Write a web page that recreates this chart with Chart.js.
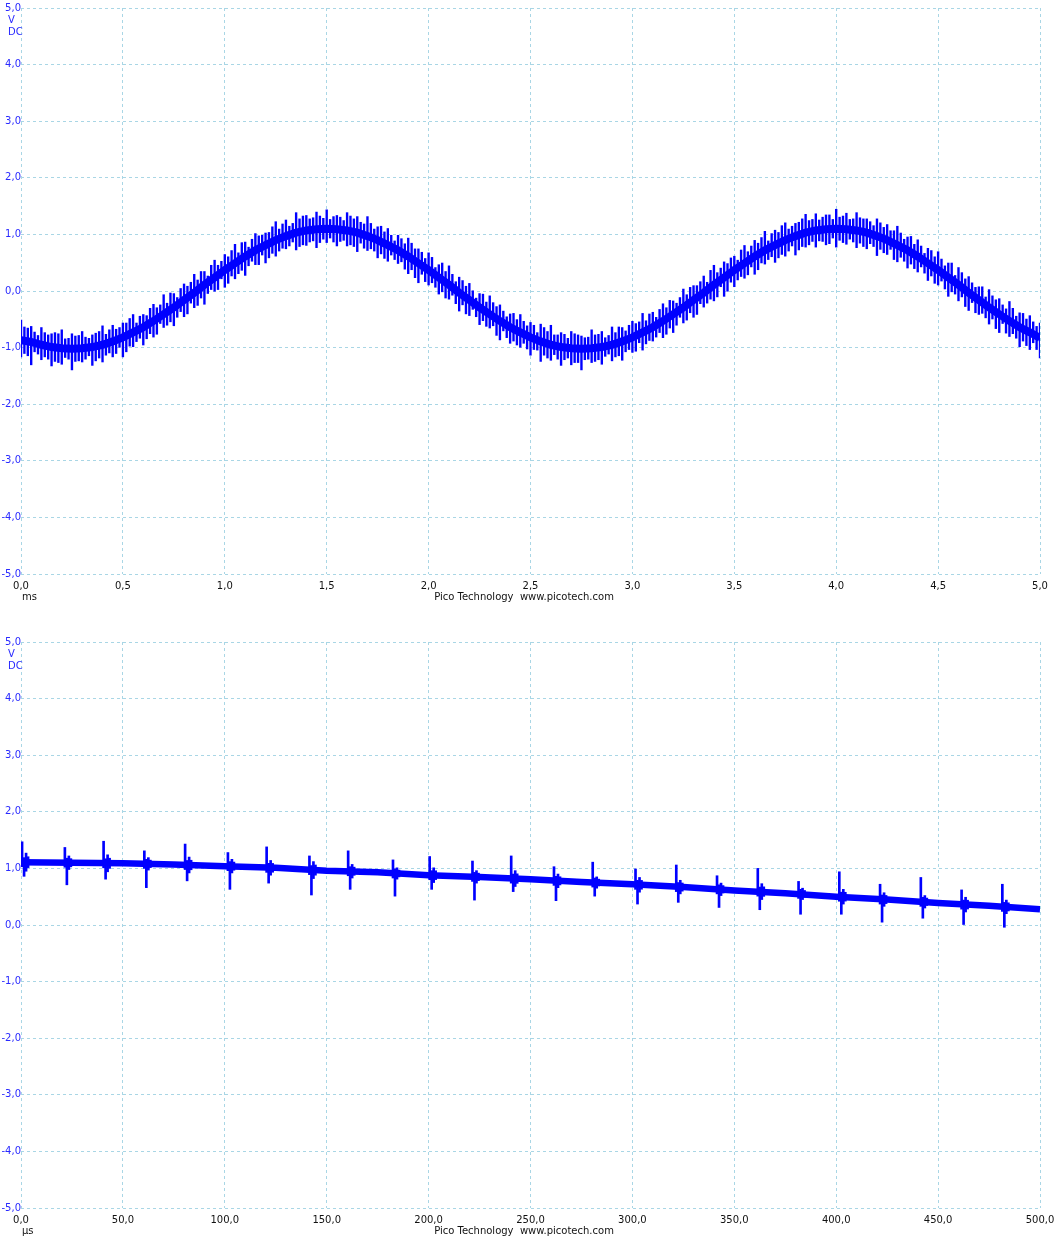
<!DOCTYPE html>
<html>
<head>
<meta charset="utf-8">
<script src="https://cdn.jsdelivr.net/npm/chart.js@4.4.1/dist/chart.umd.min.js"></script>
<style>
  html, body { margin: 0; padding: 0; background: #fff; }
  canvas { position: absolute; left: 0; }
  #scopeTop { top: 0; }
  #scopeBottom { top: 634px; }
</style>
</head>
<body>
<canvas id="scopeTop" width="1054" height="609"></canvas>
<canvas id="scopeBottom" width="1054" height="609"></canvas>
<script>
// ---- tick labels ----
const voltTicks = [-5, -4, -3, -2, -1, 0, 1, 2, 3, 4, 5];
const msTicks = [0, 0.5, 1, 1.5, 2, 2.5, 3, 3.5, 4, 4.5, 5];
const usTicks = [0, 50, 100, 150, 200, 250, 300, 350, 400, 450, 500];

// ---- top capture (ms), one reading every 0.05 ms ----
const topSampleStepMs = 0.05;
// centre of the trace (V)
const topCenter = [
  -0.87, -0.90, -0.95, -0.99, -1.01, -1.02, -1.01, -0.99, -0.95, -0.89,
  -0.82, -0.73, -0.64, -0.53, -0.41, -0.29, -0.16, -0.03, 0.11, 0.24,
  0.37, 0.49, 0.61, 0.72, 0.81, 0.90, 0.97, 1.03, 1.07, 1.09,
  1.10, 1.09, 1.07, 1.03, 0.97, 0.90, 0.81, 0.72, 0.61, 0.49,
  0.37, 0.24, 0.11, -0.03, -0.16, -0.29, -0.41, -0.53, -0.64, -0.73,
  -0.82, -0.89, -0.95, -0.99, -1.01, -1.02, -1.01, -0.99, -0.95, -0.89,
  -0.82, -0.73, -0.64, -0.53, -0.41, -0.29, -0.16, -0.03, 0.11, 0.24,
  0.37, 0.49, 0.61, 0.72, 0.81, 0.90, 0.97, 1.03, 1.07, 1.09,
  1.10, 1.09, 1.07, 1.03, 0.97, 0.90, 0.81, 0.72, 0.61, 0.49,
  0.37, 0.24, 0.11, -0.03, -0.16, -0.29, -0.41, -0.53, -0.64, -0.73,
  -0.83
];
// tall noise spikes: reach above / below the centre (V)
const topSpikeUp = [
  0.36, 0.28, 0.31, 0.24, 0.33, 0.27, 0.30, 0.22, 0.34, 0.29,
  0.26, 0.32, 0.23, 0.30, 0.35, 0.25, 0.29, 0.33, 0.24, 0.31,
  0.28, 0.34, 0.26, 0.30, 0.22, 0.33, 0.29, 0.36, 0.27, 0.31,
  0.34, 0.25, 0.32, 0.29, 0.35, 0.24, 0.30, 0.27, 0.33, 0.26,
  0.31, 0.23, 0.34, 0.28, 0.30, 0.25, 0.33, 0.29, 0.24, 0.32,
  0.27, 0.31, 0.35, 0.26, 0.30, 0.23, 0.33, 0.28, 0.32, 0.25,
  0.29, 0.34, 0.27, 0.31, 0.24, 0.33, 0.26, 0.30, 0.35, 0.28,
  0.25, 0.32, 0.29, 0.34, 0.27, 0.31, 0.23, 0.33, 0.30, 0.26,
  0.35, 0.29, 0.32, 0.25, 0.31, 0.28, 0.34, 0.24, 0.30, 0.27,
  0.33, 0.26, 0.31, 0.29, 0.24, 0.32, 0.28, 0.35, 0.26, 0.30,
  0.27
];
const topSpikeDown = [
  0.30, 0.41, 0.27, 0.34, 0.29, 0.38, 0.25, 0.33, 0.31, 0.28,
  0.35, 0.26, 0.32, 0.29, 0.24, 0.33, 0.30, 0.27, 0.35, 0.25,
  0.31, 0.28, 0.34, 0.26, 0.32, 0.29, 0.23, 0.31, 0.27, 0.33,
  0.25, 0.30, 0.28, 0.34, 0.26, 0.32, 0.29, 0.24, 0.31, 0.35,
  0.27, 0.30, 0.26, 0.33, 0.28, 0.31, 0.25, 0.34, 0.29, 0.27,
  0.32, 0.36, 0.28, 0.33, 0.30, 0.38, 0.26, 0.31, 0.29, 0.34,
  0.27, 0.32, 0.25, 0.30, 0.33, 0.28, 0.31, 0.26, 0.29, 0.34,
  0.30, 0.27, 0.32, 0.25, 0.31, 0.29, 0.34, 0.26, 0.30, 0.28,
  0.33, 0.27, 0.31, 0.29, 0.35, 0.26, 0.30, 0.32, 0.28, 0.31,
  0.27, 0.34, 0.29, 0.32, 0.26, 0.30, 0.33, 0.28, 0.35, 0.31,
  0.36
];
// smaller ripple between the tall spikes (± V around the centre)
const topRippleA = [
  0.20, 0.25, 0.17, 0.22, 0.26, 0.19, 0.23, 0.16, 0.24, 0.21,
  0.18, 0.25, 0.20, 0.23, 0.17, 0.26, 0.21, 0.19, 0.24, 0.22,
  0.16, 0.23, 0.25, 0.20, 0.18, 0.24, 0.22, 0.17, 0.26, 0.21,
  0.19, 0.23, 0.18, 0.25, 0.22, 0.20, 0.24, 0.17, 0.23, 0.26,
  0.21, 0.18, 0.24, 0.20, 0.25, 0.17, 0.22, 0.26, 0.19, 0.23,
  0.21, 0.16, 0.24, 0.22, 0.18, 0.25, 0.20, 0.23, 0.17, 0.26,
  0.22, 0.19, 0.24, 0.21, 0.25, 0.18, 0.23, 0.20, 0.26, 0.17,
  0.22, 0.24, 0.19, 0.23, 0.21, 0.26, 0.18, 0.25, 0.20, 0.22,
  0.17, 0.24, 0.21, 0.25, 0.19, 0.23, 0.26, 0.20, 0.22, 0.18,
  0.24, 0.21, 0.17, 0.25, 0.23, 0.19, 0.26, 0.22, 0.20, 0.24,
  0.21
];
const topRippleB = [
  0.24, 0.18, 0.22, 0.26, 0.17, 0.23, 0.20, 0.25, 0.19, 0.22,
  0.26, 0.17, 0.21, 0.24, 0.20, 0.18, 0.25, 0.23, 0.16, 0.22,
  0.24, 0.19, 0.17, 0.26, 0.23, 0.20, 0.18, 0.25, 0.21, 0.24,
  0.17, 0.22, 0.26, 0.19, 0.23, 0.25, 0.18, 0.21, 0.24, 0.20,
  0.23, 0.26, 0.19, 0.22, 0.17, 0.24, 0.21, 0.18, 0.25, 0.20,
  0.22, 0.25, 0.18, 0.23, 0.26, 0.20, 0.24, 0.17, 0.22, 0.19,
  0.25, 0.21, 0.18, 0.24, 0.20, 0.23, 0.26, 0.19, 0.22, 0.25,
  0.18, 0.21, 0.24, 0.17, 0.23, 0.20, 0.25, 0.22, 0.19, 0.26,
  0.21, 0.18, 0.23, 0.20, 0.24, 0.17, 0.22, 0.25, 0.19, 0.23,
  0.20, 0.26, 0.22, 0.18, 0.24, 0.21, 0.17, 0.23, 0.25, 0.19,
  0.22
];

// ---- bottom capture (µs) ----
const bottomLineTimes = [0, 25, 50, 75, 100, 125, 150, 175, 200, 225, 250,
  275, 300, 325, 350, 375, 400, 425, 450, 475, 500];
const bottomLine = [1.11, 1.10, 1.09, 1.07, 1.04, 1.01, 0.96, 0.93, 0.88, 0.85, 0.81,
  0.76, 0.72, 0.67, 0.61, 0.56, 0.50, 0.45, 0.39, 0.34, 0.28];
// switching bursts riding on the trace
const burstTimes = [2, 23, 42, 62, 82, 103, 122, 143, 162, 184, 202, 223, 242,
  263, 282, 303, 323, 343, 363, 383, 403, 423, 443, 463, 483];
const burstTop = [1.47, 1.37, 1.48, 1.31, 1.43, 1.28, 1.38, 1.22, 1.31, 1.15, 1.21, 1.13, 1.22,
  1.03, 1.11, 0.99, 1.06, 0.87, 1.00, 0.77, 0.94, 0.72, 0.84, 0.62, 0.72];
const burstBase = [1.11, 1.10, 1.09, 1.08, 1.06, 1.04, 1.01, 0.97, 0.95, 0.91, 0.88, 0.85, 0.82,
  0.78, 0.75, 0.71, 0.67, 0.63, 0.59, 0.55, 0.50, 0.45, 0.41, 0.36, 0.32];
const burstBottom = [0.86, 0.71, 0.81, 0.66, 0.78, 0.63, 0.74, 0.53, 0.63, 0.51, 0.63, 0.44, 0.59,
  0.43, 0.51, 0.37, 0.40, 0.31, 0.27, 0.19, 0.19, 0.05, 0.12, 0.00, -0.04];
// ringing that trails each burst (± V)
const burstFuzz = [0.16, 0.12, 0.15, 0.11, 0.14, 0.12, 0.13, 0.15, 0.12, 0.10, 0.13, 0.11, 0.14,
  0.12, 0.10, 0.13, 0.12, 0.11, 0.14, 0.10, 0.13, 0.12, 0.11, 0.13, 0.12];

const TRACE = '#0000ff';
const GRID = '#a9d6e5';
const FONT = '"DejaVu Sans", "Liberation Sans", sans-serif';

function commaFmt(v) {
    return Number(v).toFixed(1).replace('.', ',');
}

/**
 * Unit captions, the "V / DC" label and the footer text
 */
const captionPlugin = {
    id: 'captions',
    afterDraw(chart, args, opts) {
        const ctx = chart.ctx;
        const area = chart.chartArea;
        ctx.save();
        ctx.font = '10px ' + FONT;
        ctx.textAlign = 'left';
        ctx.fillStyle = '#2a2aff';
        ctx.fillText('V', 8, area.top + 15);
        ctx.fillText('DC', 8, area.top + 27);
        ctx.fillStyle = '#111';
        ctx.fillText(opts.unit, 22, area.bottom + 26);
        ctx.textAlign = 'center';
        ctx.fillText('Pico Technology  www.picotech.com', 524, area.bottom + 26);
        ctx.restore();
    }
};

function makeScope(canvasId, datasets, xMin, xMax, xTicks, unit) {
    const ctx = document.getElementById(canvasId).getContext('2d');
    return new Chart(ctx, {
        type: 'bar',
        data: { datasets: datasets },
        plugins: [captionPlugin],
        options: {
            responsive: false,
            animation: false,
            devicePixelRatio: 1,
            layout: { padding: { left: 0, right: 14, top: 8, bottom: 0 } },
            plugins: {
                legend: { display: false },
                tooltip: { enabled: false },
                captions: { unit: unit }
            },
            scales: {
                x: {
                    type: 'linear',
                    min: xMin,
                    max: xMax,
                    offset: false,
                    afterBuildTicks: scale => { scale.ticks = xTicks.map(v => ({ value: v })); },
                    afterFit: scale => {
                        // keep the plot edges fixed; the end labels may hang over
                        scale.height = 35;
                        scale.paddingLeft = 0;
                        scale.paddingRight = 0;
                    },
                    grid: { color: GRID, drawTicks: false, offset: false, lineWidth: 1 },
                    border: { display: false, dash: [3, 3] },
                    ticks: {
                        color: '#111',
                        padding: 6,
                        maxRotation: 0,
                        autoSkip: false,
                        font: { family: FONT, size: 10 },
                        callback: v => commaFmt(v)
                    }
                },
                y: {
                    type: 'linear',
                    min: -5,
                    max: 5,
                    afterBuildTicks: scale => { scale.ticks = voltTicks.map(v => ({ value: v })); },
                    afterFit: scale => { scale.width = 21; },
                    grid: { color: GRID, drawTicks: false, lineWidth: 1 },
                    border: { display: false, dash: [3, 3] },
                    ticks: {
                        color: '#2a2aff',
                        padding: 0,
                        autoSkip: false,
                        font: { family: FONT, size: 10 },
                        callback: v => commaFmt(v)
                    }
                }
            }
        }
    });
}

// ---- top: noisy 400 Hz sine ----
const topTimes = topCenter.map((v, i) => i * topSampleStepMs);
const topBar = { backgroundColor: TRACE, borderWidth: 0, categoryPercentage: 1, barPercentage: 0.7 };
makeScope('scopeTop', [
    {
        type: 'line',
        data: topCenter.map((v, i) => ({ x: topTimes[i], y: v })),
        borderColor: TRACE,
        borderWidth: 8,
        pointRadius: 0,
        tension: 0
    },
    Object.assign({
        data: topCenter.map((v, i) => ({ x: topTimes[i], y: [v - topRippleA[i], v + topRippleA[i]] }))
    }, topBar),
    Object.assign({
        data: topCenter.map((v, i) => ({ x: topTimes[i], y: [v - topSpikeDown[i], v + topSpikeUp[i]] }))
    }, topBar),
    Object.assign({
        data: topCenter.map((v, i) => ({ x: topTimes[i], y: [v - topRippleB[i], v + topRippleB[i]] }))
    }, topBar)
], 0, 5, msTicks, 'ms');

// ---- bottom: zoomed in, 500 µs ----
const burstBar = { backgroundColor: TRACE, borderWidth: 0, barThickness: 2 };
makeScope('scopeBottom', [
    {
        type: 'line',
        data: bottomLine.map((v, i) => ({ x: bottomLineTimes[i], y: v })),
        borderColor: TRACE,
        borderWidth: 6.5,
        pointRadius: 0,
        tension: 0
    },
    Object.assign({
        data: burstTimes.map((t, i) => ({ x: t, y: [burstBase[i] - 0.08, burstTop[i]] }))
    }, burstBar),
    Object.assign({
        data: burstTimes.map((t, i) => ({ x: t, y: [burstBottom[i], burstBase[i] + 0.08] }))
    }, burstBar),
    Object.assign({
        data: burstTimes.map((t, i) => ({ x: t, y: [burstBase[i] - burstFuzz[i], burstBase[i] + burstFuzz[i]] }))
    }, burstBar),
    Object.assign({
        data: burstTimes.map((t, i) => ({ x: t, y: [burstBase[i] - burstFuzz[i] * 0.6, burstBase[i] + burstFuzz[i] * 0.6] }))
    }, burstBar)
], 0, 500, usTicks, 'µs');
</script>
</body>
</html>
